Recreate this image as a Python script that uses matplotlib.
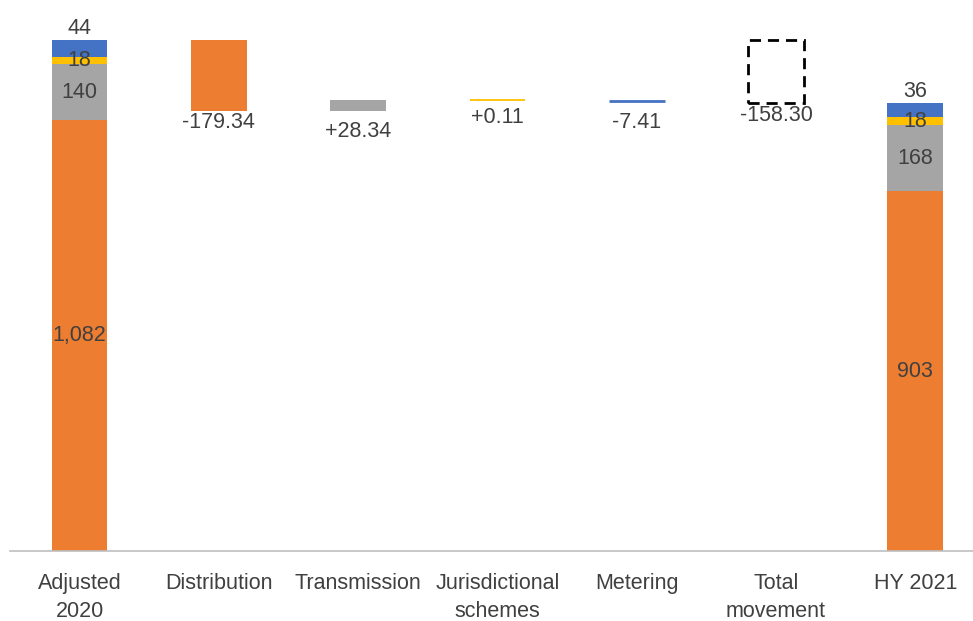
import matplotlib
matplotlib.use("Agg")
import matplotlib.pyplot as plt
from matplotlib.patches import Rectangle

categories = ["Adjusted\n2020", "Distribution", "Transmission", "Jurisdictional\nschemes",
              "Metering", "Total\nmovement", "HY 2021"]
seg_names = ["Distribution", "Transmission", "Jurisdictional", "Metering"]
seg_colors = ["#ED7D31", "#A5A5A5", "#FFC000", "#4472C4"]
start_values = [1082, 140, 18, 44]
end_values = [903, 168, 18, 36]
start_labels = ["1,082", "140", "18", "44"]
end_labels = ["903", "168", "18", "36"]
movements = [-179.34, 28.34, 0.11, -7.41]
movement_labels = ["-179.34", "+28.34", "+0.11", "-7.41"]
total_movement = -158.30
total_label = "-158.30"

plt.rcParams['font.family'] = ['Liberation Sans', 'DejaVu Sans']
fig = plt.figure(figsize=(9.73, 6.21), dpi=100)
ax = fig.add_axes([10/973, 70/621, 963/973, 551/621])
ax.set_xlim(-0.5, 6.414)
ax.set_ylim(0, 1384)
for s in ax.spines.values():
    s.set_visible(False)
ax.spines['bottom'].set_visible(True)
ax.spines['bottom'].set_color('#BFBFBF')
ax.spines['bottom'].set_linewidth(1.2)
ax.set_yticks([])
ax.set_xticks(range(len(categories)))
ax.set_xticklabels(categories, fontsize=15.5, color='#404040', linespacing=1.45)
ax.tick_params(axis='x', length=0, pad=15.5)

w = 0.4
txt = dict(ha='center', fontsize=15.5, color='#404040')
px = 1384 / 551.0
label_gap_px = [1, 10, 7, 11]

def stacked(x, vals, labels):
    bottom = 0
    for i, (v, c, lab) in enumerate(zip(vals, seg_colors, labels)):
        ax.bar(x, v, w, bottom=bottom, color=c, linewidth=0)
        if i == len(vals) - 1:
            ax.text(x, bottom + v + 1 * px, lab, va='bottom', **txt)
        else:
            ax.text(x, bottom + v / 2, lab, va='center', **txt)
        bottom += v
    return bottom

total0 = stacked(0, start_values, start_labels)
level = total0
for i, (m, c, lab) in enumerate(zip(movements, seg_colors, movement_labels)):
    x = i + 1
    lo = min(level, level + m)
    hi = max(level, level + m)
    h = hi - lo
    if h < 3 * px:
        mid = (lo + hi) / 2
        ax.plot([x - w / 2, x + w / 2], [mid, mid], color=c, lw=2 if c != "#FFC000" else 1.3,
                solid_capstyle='butt')
        lo = mid
    else:
        ax.bar(x, h, w, bottom=lo, color=c, linewidth=0)
    ax.text(x, lo - label_gap_px[i] * px, lab, va='top', **txt)
    level += m

end_total = total0 + total_movement
ax.add_patch(Rectangle((5 - w / 2, end_total), w, -total_movement, fill=False,
                       edgecolor='black', linestyle=(0, (4, 2.5)), linewidth=2))
ax.text(5, end_total - 2 * px, total_label, va='top', **txt)

stacked(6, end_values, end_labels)

fig.savefig("out.png", dpi=100)
